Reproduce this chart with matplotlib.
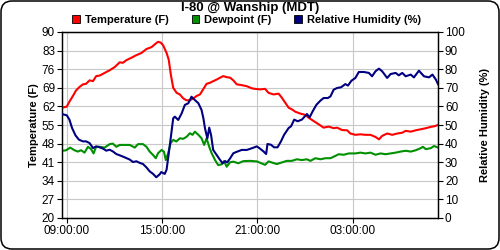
import numpy as np
import pandas as pd
import matplotlib
matplotlib.use("Agg")
import matplotlib.pyplot as plt
import matplotlib.dates as mdates
from matplotlib.patches import FancyBboxPatch, Patch

plt.rcParams['font.family'] = ['Liberation Sans', 'DejaVu Sans']

# minutes after 09:00 (MDT) for each reading
temp_min = [-18, 0, 10, 23, 35, 48, 61, 73, 86, 99,
            111, 124, 143, 162, 181, 200, 212, 225, 244, 263,
            282, 301, 320, 339, 345, 355, 364, 377, 385, 393,
            402, 415, 427, 440, 452, 465, 478, 490, 503, 515,
            528, 541, 553, 566, 579, 591, 604, 617, 629, 642,
            661, 680, 699, 711, 730, 749, 762, 781, 800, 812,
            825, 838, 850, 863, 882, 901, 913, 932, 951, 970,
            989, 1008, 1021, 1040, 1059, 1071, 1090, 1109, 1128, 1147,
            1166, 1179, 1191, 1210, 1229, 1248, 1267, 1280, 1299, 1318,
            1337, 1356, 1375, 1387, 1402]
temp_f = [61.5, 61.9, 63.8, 65.9, 68.0, 69.3, 70.3, 70.5, 71.8, 71.5,
          73.4, 73.6, 74.6, 75.6, 76.8, 78.6, 78.4, 79.4, 80.3, 81.3,
          82.1, 83.6, 84.3, 85.9, 86.3, 86.0, 85.0, 82.1, 79.6, 74.0,
          69.0, 67.1, 66.5, 65.0, 64.3, 64.3, 65.0, 65.9, 66.5, 68.4,
          70.5, 70.9, 71.5, 72.1, 72.8, 73.4, 73.0, 72.8, 71.8, 70.3,
          70.0, 69.6, 68.8, 68.6, 68.4, 68.6, 67.1, 66.5, 66.8, 65.3,
          63.4, 61.5, 60.9, 60.0, 59.3, 58.8, 57.8, 56.5, 55.3, 54.0,
          54.4, 53.8, 54.0, 53.1, 53.0, 51.8, 51.3, 51.5, 51.3, 51.3,
          50.5, 49.6, 50.9, 51.8, 51.3, 51.8, 52.1, 52.8, 52.5, 53.0,
          53.4, 53.8, 54.3, 54.5, 55.0]

dew_min = [-15, -2, 13, 29, 42, 54, 67, 80, 92, 101,
           111, 124, 143, 162, 174, 187, 200, 219, 238, 257,
           269, 288, 301, 313, 326, 336, 345, 358, 367, 374,
           383, 392, 402, 414, 427, 440, 453, 465, 475, 484,
           497, 509, 519, 528, 538, 547, 560, 572, 585, 594,
           604, 617, 629, 648, 667, 692, 718, 737, 749, 762,
           774, 793, 812, 831, 850, 869, 888, 907, 920, 939,
           958, 977, 996, 1015, 1027, 1046, 1065, 1090, 1109, 1128,
           1147, 1166, 1185, 1204, 1223, 1242, 1261, 1280, 1299, 1318,
           1337, 1345, 1356, 1375, 1387, 1402]
dew_f = [45.3, 45.5, 46.5, 45.5, 45.0, 45.5, 44.6, 46.8, 45.9, 44.3,
         46.8, 46.8, 46.5, 47.8, 48.0, 46.8, 47.5, 47.5, 47.5, 46.5,
         47.8, 47.8, 46.8, 45.0, 43.7, 42.5, 44.4, 45.6, 45.0, 41.8,
         44.4, 48.1, 49.4, 48.8, 50.0, 49.8, 50.6, 51.9, 51.3, 52.5,
         51.3, 50.0, 47.5, 50.0, 46.8, 44.4, 41.8, 39.9, 40.2, 41.4,
         39.3, 41.0, 41.2, 40.6, 41.4, 41.5, 41.3, 40.5, 40.0, 41.3,
         40.9, 40.3, 40.9, 41.5, 41.5, 42.1, 41.8, 42.1, 41.5, 42.5,
         42.1, 42.5, 42.5, 43.4, 44.0, 43.8, 44.3, 44.3, 44.6, 44.3,
         44.6, 43.8, 44.3, 44.0, 44.3, 44.6, 45.0, 45.3, 45.0, 45.5,
         46.3, 46.8, 45.9, 46.3, 47.1, 46.5]

rh_min = [-18, 0, 10, 20, 33, 46, 61, 73, 86, 99,
          111, 124, 137, 149, 162, 174, 187, 200, 219, 238,
          250, 263, 276, 288, 301, 313, 326, 338, 351, 357,
          370, 377, 390, 402, 408, 421, 434, 446, 459, 471,
          484, 497, 509, 516, 522, 531, 538, 545, 553, 566,
          579, 589, 598, 606, 617, 629, 642, 661, 680, 699,
          718, 730, 743, 753, 758, 771, 783, 796, 809, 821,
          838, 847, 859, 872, 888, 907, 917, 930, 943, 958,
          970, 986, 996, 1008, 1021, 1036, 1052, 1062, 1075, 1090,
          1103, 1122, 1141, 1153, 1166, 1179, 1191, 1210, 1223, 1242,
          1254, 1267, 1280, 1299, 1311, 1330, 1349, 1368, 1381, 1394, 1402]
rh_pct = [55.9, 55.2, 52.9, 48.4, 44.4, 42.1, 41.2, 41.2, 40.3, 37.6,
          38.5, 38.0, 37.3, 36.2, 36.7, 35.8, 34.4, 33.7, 32.6, 31.4,
          30.1, 30.5, 29.6, 29.0, 27.2, 25.1, 23.7, 21.9, 23.5, 24.7,
          23.7, 26.0, 40.0, 53.6, 54.5, 52.7, 56.3, 60.8, 61.7, 65.2,
          63.4, 61.7, 58.1, 53.6, 48.2, 42.8, 48.6, 44.6, 36.6, 33.9,
          31.2, 29.4, 30.6, 29.9, 32.1, 34.8, 35.6, 36.6, 36.6, 37.5,
          38.5, 37.3, 35.8, 34.4, 39.8, 39.4, 38.0, 38.0, 41.2, 44.8,
          48.4, 49.3, 52.9, 52.0, 52.9, 55.9, 54.1, 57.7, 60.9, 63.1,
          64.5, 64.5, 65.4, 69.0, 69.9, 70.3, 72.0, 71.2, 73.8, 75.3,
          78.5, 78.5, 78.0, 76.2, 78.9, 80.3, 78.9, 75.3, 77.4, 78.0,
          76.7, 78.0, 76.2, 77.1, 75.6, 79.2, 76.2, 75.6, 77.1, 74.4, 72.0]

temp_ticks = list(range(20, 91, 7))
rh_ticks = list(range(0, 101, 10))

base = pd.Timestamp("2024-06-01 09:00")


def to_time(minutes):
    return base + pd.to_timedelta(minutes, unit="min")


RED = '#ff0000'
GREEN = '#009000'
NAVY = '#000080'

fig = plt.figure(figsize=(5, 2.5), dpi=100)

# rounded outer frame
bg = fig.add_axes([0, 0, 1, 1], zorder=-5)
bg.set_xlim(0, 500)
bg.set_ylim(0, 250)
bg.axis('off')
bg.add_patch(FancyBboxPatch((1, 1), 498, 248,
                            boxstyle='round,pad=0,rounding_size=11',
                            facecolor='white', edgecolor='black', linewidth=1.1))

ax = fig.add_axes([0.124, 0.128, 0.752, 0.744])
ax2 = ax.twinx()

ax.plot(to_time(temp_min), temp_f, color=RED, lw=1.5, zorder=3)
ax.plot(to_time(dew_min), dew_f, color=GREEN, lw=1.5, zorder=3)
ax2.plot(to_time(rh_min), rh_pct, color=NAVY, lw=1.5, zorder=3)

ax.set_ylim(20, 90)
ax.set_yticks(temp_ticks)
ax2.set_ylim(0, 100)
ax2.set_yticks(rh_ticks)

ax.set_xlim(to_time(-18), to_time(1402))
ax.xaxis.set_major_locator(mdates.HourLocator(byhour=[3, 9, 15, 21]))
ax.xaxis.set_major_formatter(mdates.DateFormatter('%H:%M:%S'))

ax.set_axisbelow(True)
ax.grid(True, color='#c8c8c8', linewidth=0.8)

for a in (ax, ax2):
    for s in a.spines.values():
        s.set_linewidth(0.9)
        s.set_color('black')
    a.tick_params(direction='out', length=3.5, width=0.8, labelsize=8.5, pad=1.5)

ax.set_ylabel('Temperature (F)', fontsize=8, fontweight='bold')
ax.yaxis.set_label_coords(-0.062, 0.5)
ax2.set_ylabel('Relative Humidity (%)', fontsize=8, fontweight='bold', rotation=90)
ax2.yaxis.set_label_coords(1.111, 0.5)

fig.text(0.5, 1 - 8 / 250, 'I-80 @ Wanship (MDT)', ha='center', va='center',
         fontsize=9.5, fontweight='bold')

handles = [Patch(facecolor=RED, edgecolor='black', linewidth=0.6, label='Temperature (F)'),
           Patch(facecolor=GREEN, edgecolor='black', linewidth=0.6, label='Dewpoint (F)'),
           Patch(facecolor=NAVY, edgecolor='black', linewidth=0.6, label='Relative Humidity (%)')]
fig.legend(handles=handles, loc='center', bbox_to_anchor=(0.493, 1 - 20 / 250), ncol=3,
           frameon=False, prop={'size': 8, 'weight': 'bold'}, handlelength=0.65,
           handleheight=0.65, handletextpad=0.45, columnspacing=2.1, borderpad=0)

fig.savefig('out.png', dpi=100)
